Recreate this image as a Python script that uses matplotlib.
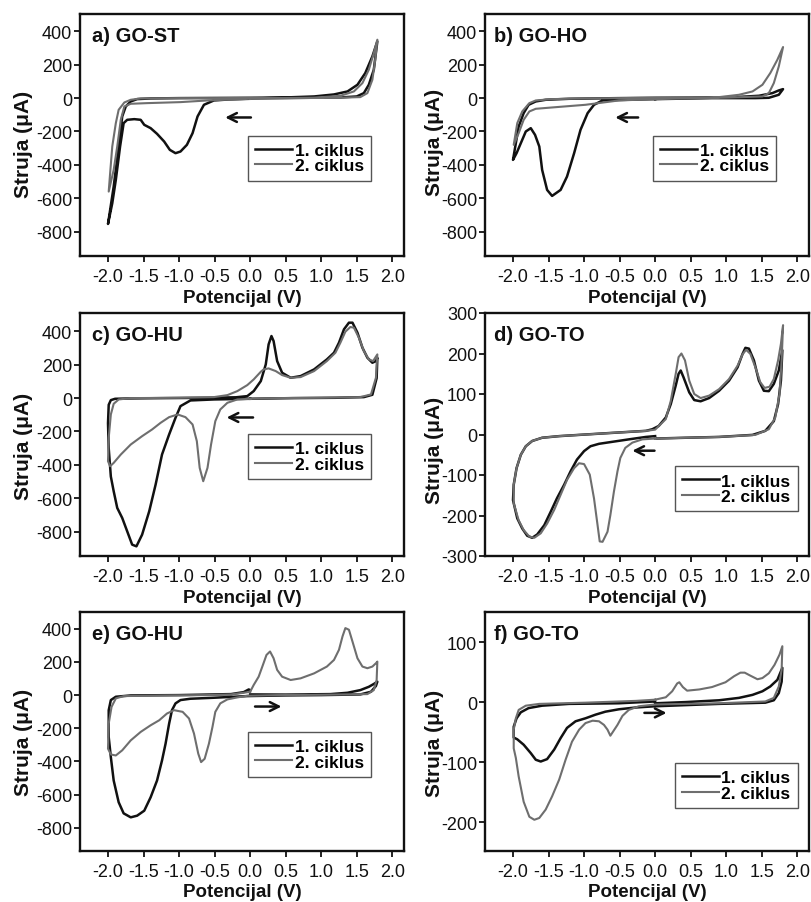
import matplotlib
matplotlib.use('Agg')
import matplotlib.pyplot as plt

plt.rcParams['font.family'] = ['Liberation Sans', 'DejaVu Sans']
plt.rcParams['axes.unicode_minus'] = False

# ---------------- data ----------------
x_ticks = [-2.0, -1.5, -1.0, -0.5, 0.0, 0.5, 1.0, 1.5, 2.0]
y_ticks_big = [-800, -600, -400, -200, 0, 200, 400]
y_ticks_d = [-300, -200, -100, 0, 100, 200, 300]
y_ticks_f = [-200, -100, 0, 100]
series_names = ['1. ciklus', '2. ciklus']
panel_titles = ['a) GO-ST', 'b) GO-HO', 'c) GO-HU', 'd) GO-TO', 'e) GO-HU', 'f) GO-TO']

# a) GO-ST
a1_x = [0.0, -0.3, -0.51, -0.65, -0.74, -0.81, -0.89, -0.98, -1.05, -1.13, -1.21, -1.31, -1.4, -1.49,
        -1.54, -1.63, -1.73, -1.78, -1.83, -1.89, -1.94, -2.0, -1.92, -1.85, -1.8, -1.75, -1.68, -1.59,
        -1.4, -1.0, -0.5, 0.0, 0.5, 0.9, 1.18, 1.37, 1.51, 1.62, 1.72, 1.79, 1.74, 1.67, 1.6, 1.5, 1.27,
        0.8, 0.3, 0.0]
a1_y = [-4, -8, -14, -40, -110, -210, -280, -320, -330, -310, -260, -214, -180, -160,
        -130, -126, -130, -150, -290, -490, -630, -754, -530, -290, -110, -50, -20, -6,
        -2, 0, 1, 2, 4, 10, 22, 40, 80, 150, 250, 340, 170, 80, 30, 10, 4,
        2, 0, -2]
a2_x = [0.0, -0.6, -0.98, -1.45, -1.68, -1.77, -1.82, -1.87, -1.92, -1.99, -1.97, -1.94, -1.89, -1.85,
        -1.77, -1.68, -1.54, -1.0, -0.5, 0.0, 0.5, 0.9, 1.27, 1.46, 1.58, 1.67, 1.74, 1.79, 1.76, 1.72,
        1.65, 1.55, 1.2, 0.6, 0.0]
a2_y = [-4, -14, -24, -30, -34, -50, -130, -290, -430, -560, -450, -290, -150, -70,
        -26, -10, -2, 0, 0, 1, 1, 2, 14, 40, 90, 170, 270, 350, 230, 110,
        30, 6, 2, 0, -4]

# b) GO-HO
b1_x = [0.0, -0.4, -0.74, -0.86, -0.95, -1.05, -1.14, -1.24, -1.33, -1.45, -1.52, -1.59, -1.63, -1.69,
        -1.75, -1.82, -1.89, -1.95, -2.0, -1.96, -1.92, -1.85, -1.78, -1.68, -1.54, -1.21, -0.5, 0.0,
        0.5, 1.13, 1.46, 1.65, 1.74, 1.8, 1.74, 1.6, 1.41, 0.8, 0.0]
b1_y = [-6, -10, -14, -40, -90, -190, -330, -470, -550, -586, -550, -430, -290, -220,
        -180, -200, -270, -330, -370, -270, -170, -90, -40, -20, -10, -4, 0, 2,
        3, 6, 14, 30, 46, 54, 20, 2, 0, 0, -6]
b2_x = [0.0, -0.51, -0.98, -1.45, -1.68, -1.77, -1.85, -1.92, -1.99, -1.94, -1.87, -1.77, -1.68, -1.45,
        -1.0, -0.5, 0.0, 0.5, 0.9, 1.18, 1.37, 1.51, 1.62, 1.72, 1.8, 1.74, 1.67, 1.6, 1.51, 1.0, 0.0]
b2_y = [-6, -14, -40, -56, -64, -80, -130, -210, -280, -150, -80, -30, -14, -6,
        -2, 0, 2, 3, 6, 20, 40, 80, 150, 230, 306, 190, 90, 30, 10, 3, -6]

# c) GO-HU
c1_x = [0.0, -0.51, -0.84, -0.98, -1.05, -1.14, -1.24, -1.33, -1.42, -1.52, -1.6, -1.66, -1.73, -1.8,
        -1.87, -1.92, -1.96, -1.99, -2.0, -1.99, -1.96, -1.9, -1.7, -1.2, -0.6, -0.2, -0.04, 0.05, 0.15,
        0.22, 0.26, 0.3, 0.33, 0.38, 0.45, 0.57, 0.71, 0.9, 1.08, 1.18, 1.25, 1.32, 1.39, 1.44, 1.51, 1.58,
        1.65, 1.72, 1.77, 1.79, 1.78, 1.72, 1.6, 1.2, 0.6, 0.0]
c1_y = [-4, -8, -14, -48, -118, -218, -338, -518, -678, -818, -888, -878, -798, -718,
        -658, -558, -470, -300, -150, -40, -12, -4, -2, 0, 2, 5, 12, 42, 102,
        202, 322, 372, 342, 222, 152, 122, 132, 172, 232, 272, 332, 412, 452, 452, 392, 302,
        242, 212, 222, 242, 120, 20, 6, 2, 0, -4]
c2_x = [0.0, -0.18, -0.32, -0.42, -0.49, -0.55, -0.6, -0.66, -0.71, -0.75, -0.81, -0.91, -1.02, -1.14,
        -1.26, -1.38, -1.52, -1.68, -1.82, -1.92, -1.97, -2.0, -1.99, -1.96, -1.92, -1.85, -1.68, -1.0,
        -0.51, -0.32, -0.18, -0.04, 0.05, 0.15, 0.19, 0.26, 0.36, 0.45, 0.57, 0.71, 0.9, 1.08, 1.2, 1.27,
        1.34, 1.41, 1.46, 1.53, 1.6, 1.67, 1.73, 1.79, 1.77, 1.7, 1.55, 1.0, 0.4, 0.0]
c2_y = [-4, -8, -28, -68, -138, -278, -418, -498, -418, -258, -158, -114, -98, -114,
        -148, -188, -228, -278, -338, -388, -408, -378, -238, -98, -34, -8, 0, 2,
        6, 18, 42, 78, 112, 158, 172, 178, 162, 138, 122, 126, 162, 222, 272, 332,
        398, 426, 422, 362, 282, 232, 222, 262, 122, 22, 6, 2, 0, -4]

# d) GO-TO
d1_x = [0.0, -0.13, -0.37, -0.6, -0.79, -0.91, -1.0, -1.1, -1.19, -1.28, -1.38, -1.47, -1.56, -1.66,
        -1.73, -1.8, -1.87, -1.94, -2.0, -1.99, -1.95, -1.89, -1.82, -1.73, -1.59, -1.35, -0.98, -0.51,
        -0.13, -0.04, 0.05, 0.15, 0.22, 0.29, 0.33, 0.36, 0.4, 0.48, 0.55, 0.64, 0.76, 0.9, 1.04, 1.16,
        1.23, 1.27, 1.32, 1.39, 1.46, 1.53, 1.6, 1.67, 1.74, 1.79, 1.77, 1.73, 1.67, 1.55, 1.37, 0.9,
        0.43, 0.0]
d1_y = [-4, -6, -12, -18, -23, -29, -41, -62, -91, -124, -157, -191, -224, -247,
        -255, -250, -232, -207, -162, -124, -83, -50, -29, -16, -8, -4, 0, 5,
        9, 13, 21, 42, 75, 121, 150, 158, 141, 104, 85, 82, 90, 108, 133, 166,
        199, 214, 212, 183, 133, 108, 107, 125, 158, 208, 133, 75, 33, 9, -1, -6,
        -8, -10]
d2_x = [0.0, -0.18, -0.32, -0.42, -0.49, -0.53, -0.58, -0.63, -0.67, -0.74, -0.78, -0.81, -0.86, -0.92,
        -1.0, -1.07, -1.14, -1.24, -1.33, -1.42, -1.52, -1.61, -1.7, -1.77, -1.85, -1.92, -1.99, -1.99,
        -1.95, -1.89, -1.82, -1.73, -1.59, -1.35, -0.98, -0.51, -0.13, 0.0, 0.15, 0.22, 0.29, 0.33, 0.37,
        0.42, 0.48, 0.55, 0.64, 0.76, 0.9, 1.04, 1.16, 1.23, 1.28, 1.34, 1.41, 1.48, 1.54, 1.61, 1.67,
        1.73, 1.77, 1.8, 1.78, 1.75, 1.69, 1.6, 1.41, 0.9, 0.0]
d2_y = [-10, -12, -20, -33, -58, -91, -141, -199, -240, -265, -264, -224, -158, -99,
        -73, -71, -83, -112, -149, -186, -220, -244, -255, -252, -236, -212, -170, -124,
        -83, -50, -29, -16, -8, -4, 0, 5, 9, 12, 38, 83, 150, 191, 200,
        183, 133, 100, 90, 96, 112, 137, 170, 198, 209, 199, 166, 129, 115, 118, 137,
        183, 224, 270, 183, 100, 42, 13, -1, -6, -10]

# e) GO-HU
e1_x = [0.0, 0.5, 1.13, 1.37, 1.55, 1.67, 1.74, 1.79, 1.77, 1.7, 1.55, 1.0, 0.5, -0.04, -0.51, -0.84,
        -0.98, -1.05, -1.1, -1.14, -1.19, -1.24, -1.31, -1.4, -1.49, -1.59, -1.68, -1.78, -1.85, -1.92,
        -1.96, -1.99, -1.99, -1.96, -1.89, -1.68, -1.0, -0.27, -0.09, -0.02, 0.0]
e1_y = [4, 3, 6, 14, 30, 50, 67, 81, 55, 20, 4, 0, -2, -6, -16, -22,
        -30, -50, -91, -172, -293, -394, -515, -616, -697, -727, -737, -713, -646, -515,
        -374, -253, -91, -30, -10, -2, 0, 6, 18, 34, 30]
e2_x = [0.0, 0.05, 0.12, 0.18, 0.23, 0.28, 0.33, 0.38, 0.45, 0.57, 0.71, 0.9, 1.08, 1.18, 1.25, 1.3,
        1.34, 1.39, 1.44, 1.51, 1.58, 1.65, 1.72, 1.77, 1.79, 1.78, 1.74, 1.65, 1.0, 0.4, -0.04, -0.18,
        -0.32, -0.42, -0.49, -0.53, -0.58, -0.64, -0.69, -0.73, -0.79, -0.86, -0.95, -1.07, -1.17, -1.28,
        -1.4, -1.54, -1.68, -1.8, -1.89, -1.96, -2.0, -1.99, -1.95, -1.89, -1.78, -1.2, -0.6, -0.27,
        -0.09, 0.0]
e2_y = [20, 61, 111, 182, 242, 263, 222, 152, 111, 91, 101, 131, 172, 212, 273, 354,
        404, 394, 323, 222, 172, 162, 172, 192, 202, 91, 30, 6, 2, 0, -4, -14,
        -26, -50, -101, -192, -293, -384, -404, -353, -232, -141, -101, -91, -111, -152,
        -182, -222, -273, -333, -364, -358, -323, -172, -71, -20, -6, -2, 0, 4,
        14, 20]

# f) GO-TO
f1_x = [0.0, 0.43, 0.9, 1.18, 1.37, 1.51, 1.62, 1.72, 1.79, 1.78, 1.74, 1.67, 1.55, 0.9, 0.0, -0.27,
        -0.51, -0.7, -0.84, -0.98, -1.12, -1.24, -1.33, -1.42, -1.52, -1.61, -1.68, -1.75, -1.85, -1.94,
        -1.99, -1.99, -1.95, -1.89, -1.78, -1.59, -1.21, -0.51, 0.0]
f1_y = [-2, 0, 3, 7, 12, 18, 26, 37, 57, 34, 15, 3, -1, -3, -7, -9,
        -12, -16, -21, -27, -32, -43, -60, -79, -95, -99, -96, -85, -71, -62,
        -59, -41, -27, -17, -10, -6, -3, -2, 1]
f2_x = [0.0, 0.15, 0.24, 0.31, 0.34, 0.39, 0.45, 0.62, 0.8, 0.99, 1.11, 1.2, 1.26, 1.34, 1.44, 1.51,
        1.6, 1.68, 1.75, 1.79, 1.78, 1.74, 1.67, 1.55, 0.9, 0.0, -0.23, -0.37, -0.46, -0.53, -0.58, -0.63,
        -0.67, -0.72, -0.79, -0.88, -0.98, -1.07, -1.17, -1.26, -1.35, -1.45, -1.54, -1.63, -1.7, -1.77,
        -1.85, -1.92, -1.96, -1.99, -1.99, -1.96, -1.92, -1.82, -1.63, -0.98, -0.27, 0.0]
f2_y = [4, 8, 18, 31, 33, 25, 19, 21, 25, 33, 43, 49, 49, 44, 38, 40,
        48, 62, 79, 93, 54, 26, 7, 1, -2, -4, -7, -13, -23, -38, -47, -56,
        -46, -38, -32, -31, -35, -46, -66, -96, -129, -157, -179, -193, -196, -191,
        -166, -124, -93, -77, -46, -27, -13, -6, -3, -1, 2, 4]

# arrows: (tail_x, tail_y, head_x, head_y)
arrows = [(0.05, -116, -0.39, -116), (-0.2, -116, -0.6, -116), (0.08, -116, -0.37, -116),
          (0.03, -40, -0.36, -40), (0.03, -69, 0.48, -69), (-0.19, -18, 0.2, -18)]

# ---------------- layout ----------------
W, H = 812, 903
fig = plt.figure(figsize=(W / 100, H / 100), dpi=100)

boxes = [(80, 15, 404, 257), (485, 15, 809, 257),
         (80, 314, 404, 557), (485, 314, 809, 557),
         (80, 613, 404, 852), (485, 613, 809, 852)]
ylims = [(-946, 504), (-946, 504), (-946, 510), (-300, 300), (-940, 501), (-248, 150)]
yticks = [y_ticks_big, y_ticks_big, y_ticks_big, y_ticks_d, y_ticks_big, y_ticks_f]
curves = [((a1_x, a1_y), (a2_x, a2_y)), ((b1_x, b1_y), (b2_x, b2_y)),
          ((c1_x, c1_y), (c2_x, c2_y)), ((d1_x, d1_y), (d2_x, d2_y)),
          ((e1_x, e1_y), (e2_x, e2_y)), ((f1_x, f1_y), (f2_x, f2_y))]
leg_anchor = [(0.519, 0.497), (0.519, 0.497), (0.519, 0.502), (0.586, 0.37), (0.519, 0.498), (0.586, 0.368)]
ylab_pos = [(-0.145, 0.467), (-0.127, 0.475), (-0.145, 0.453), (-0.127, 0.44), (-0.145, 0.46), (-0.127, 0.456)]
title_x = [0.036, 0.028, 0.036, 0.028, 0.036, 0.028]

colors = ['#111111', '#6e6e6e']
lws = [1.8, 1.5]

for i in range(6):
    l, t, r, b = boxes[i]
    ax = fig.add_axes([l / W, 1 - b / H, (r - l) / W, (b - t) / H])
    (x1, y1), (x2, y2) = curves[i]
    ax.plot(x1, y1, color=colors[0], lw=lws[0], label=series_names[0], solid_joinstyle='round')
    ax.plot(x2, y2, color=colors[1], lw=lws[1], label=series_names[1], solid_joinstyle='round')
    ax.set_xlim(-2.394, 2.165)
    ax.set_ylim(*ylims[i])
    ax.set_xticks(x_ticks)
    ax.set_xticklabels(['%.1f' % v for v in x_ticks])
    ax.set_yticks(yticks[i])
    ax.set_yticklabels([str(v) for v in yticks[i]])
    ax.tick_params(axis='both', direction='out', length=4, width=1.3, labelsize=13, colors='#111111')
    ax.tick_params(axis='x', pad=5)
    ax.tick_params(axis='y', pad=1.5)
    for sp in ax.spines.values():
        sp.set_linewidth(1.7)
        sp.set_color('#111111')
    ax.set_xlabel('Potencijal (V)', fontsize=13.5, fontweight='bold', color='#111111')
    ax.xaxis.set_label_coords(0.5, -0.135)
    ax.set_ylabel('Struja (μA)', fontsize=15, fontweight='bold', color='#111111')
    ax.yaxis.set_label_coords(*ylab_pos[i])
    ax.text(title_x[i], 0.95, panel_titles[i], transform=ax.transAxes, fontsize=14.5,
            fontweight='bold', va='top', ha='left', color='#111111')
    leg = ax.legend(loc='upper left', bbox_to_anchor=leg_anchor[i], borderaxespad=0,
                    frameon=True, fancybox=False, framealpha=1, edgecolor='#555555',
                    handlelength=2.1, handletextpad=0.15, borderpad=0.42, labelspacing=0.0,
                    prop={'weight': 'bold', 'size': 12.5})
    leg.get_frame().set_linewidth(1.0)
    tx, ty, hx, hy = arrows[i]
    ax.annotate('', xy=(hx, hy), xytext=(tx, ty),
                arrowprops=dict(arrowstyle='->', lw=1.8, color='#111111', mutation_scale=16))

fig.savefig('out.png', dpi=100)
